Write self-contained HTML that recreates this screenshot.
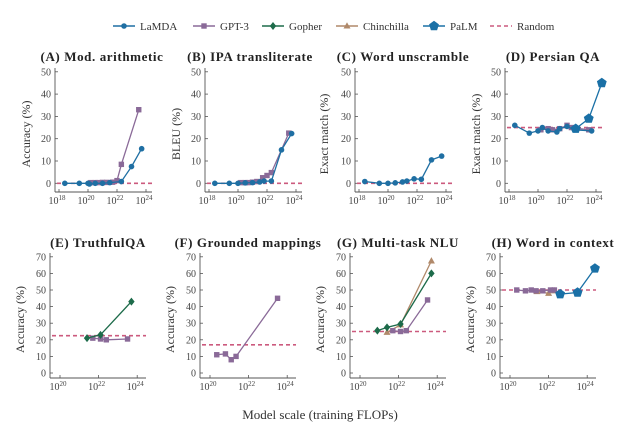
<!DOCTYPE html>
<html><head><meta charset="utf-8"><style>
body{margin:0;background:#fff;width:640px;height:430px;overflow:hidden}
svg{display:block;font-family:"Liberation Serif",serif}
</style></head><body>
<svg id="s" width="640" height="430" viewBox="0 0 640 430" xmlns="http://www.w3.org/2000/svg"></svg>
<script>
const C={L:'#1f6fa3',G:'#8a6a98',Go:'#1d6b4a',Ch:'#b0896a',P:'#1a70a6',R:'#cc5a7e'};
let h='';
function mk(t,x,y){
 if(t=='L')return `<circle cx="${x}" cy="${y}" r="2.8" fill="${C.L}"/>`;
 if(t=='G')return `<rect x="${x-2.7}" y="${y-2.7}" width="5.4" height="5.4" fill="${C.G}"/>`;
 if(t=='Go')return `<polygon points="${x},${y-4} ${x+3.2},${y} ${x},${y+4} ${x-3.2},${y}" fill="${C.Go}"/>`;
 if(t=='Ch')return `<polygon points="${x},${y-3.8} ${x+3.5},${y+2.5} ${x-3.5},${y+2.5}" fill="${C.Ch}"/>`;
 if(t=='P'){let p=[];for(let i=0;i<5;i++){let a=-Math.PI/2+i*2*Math.PI/5;p.push((x+5.2*Math.cos(a)).toFixed(1)+','+(y+5.2*Math.sin(a)).toFixed(1));}return `<polygon points="${p.join(' ')}" fill="${C.P}"/>`;}
}
function leg(){
 const items=[['L','LaMDA',113],['G','GPT-3',193],['Go','Gopher',262],['Ch','Chinchilla',336],['P','PaLM',423],['R','Random',490]];
 for(const [t,n,x] of items){
  if(t=='R')h+=`<line x1="${x}" y1="26" x2="${x+22}" y2="26" stroke="${C.R}" stroke-width="1.6" stroke-dasharray="4,3"/>`;
  else h+=`<line x1="${x}" y1="26" x2="${x+22}" y2="26" stroke="${C[t]}" stroke-width="1.4"/>`+mk(t,x+11,26);
  h+=`<text x="${x+27}" y="30" font-size="11" fill="#333">${n}</text>`;
 }
}
function panel(o){
 const top=o.row==0;
 const ax=o.ax;
 const y0=top?183.3:373, sc=top?2.23:1.66, ymax=top?50:70, ybot=top?192:378, ytop=top?68:253;
 const xs=top?(l=>ax+4+(l-18)*14.5):(l=>ax+10+(l-20)*19.3);
 const xr=top?ax+97:ax+96;
 const Y=v=>y0-v*sc;
 h+=`<text x="${o.tx}" y="${top?61:247}" font-size="13" letter-spacing="0.6" font-weight="bold" text-anchor="middle" fill="#222">${o.title}</text>`;
 h+=`<line x1="${ax}" y1="${ytop}" x2="${ax}" y2="${ybot}" stroke="#555" stroke-width="0.9"/><line x1="${ax}" y1="${ybot}" x2="${xr}" y2="${ybot}" stroke="#555" stroke-width="0.9"/>`;
 for(let v=0;v<=ymax;v+=10){h+=`<line x1="${ax}" y1="${Y(v)}" x2="${ax+3}" y2="${Y(v)}" stroke="#555" stroke-width="0.8"/><text x="${ax-4}" y="${Y(v)+3.5}" font-size="10" text-anchor="end" fill="#444">${v}</text>`;}
 const dec=top?[18,20,22,24]:[20,22,24];
 for(const d of dec){const x=xs(d);h+=`<line x1="${x}" y1="${ybot}" x2="${x}" y2="${ybot-3}" stroke="#555" stroke-width="0.8"/><text x="${x-2}" y="${ybot+12}" font-size="10" text-anchor="middle" fill="#444">10<tspan dy="-4" font-size="7">${d}</tspan></text>`;}
 h+=`<text transform="translate(${o.lx},${(ytop+ybot)/2+4}) rotate(-90)" font-size="12" text-anchor="middle" fill="#333">${o.yl}</text>`;
 h+=`<line x1="${ax+2}" y1="${Y(o.r)}" x2="${xr}" y2="${Y(o.r)}" stroke="${C.R}" stroke-width="1.6" stroke-dasharray="4,3"/>`;
 for(const [t,pts] of o.s){
  const P=pts.map(([l,v])=>[xs(l),Y(v)]);
  h+=`<polyline points="${P.map(p=>p[0].toFixed(1)+','+p[1].toFixed(1)).join(' ')}" fill="none" stroke="${C[t]}" stroke-width="1.3"/>`;
  for(const p of P)h+=mk(t,p[0],p[1]);
 }
}
leg();
panel({row:0,ax:55,tx:102,lx:30,title:'(A) Mod. arithmetic',yl:'Accuracy (%)',r:0,s:[
 ['G',[[20.2,0.3],[20.5,0.3],[20.7,0.3],[21,0.4],[21.3,0.4],[21.7,0.5],[22,1.2],[22.3,8.5],[23.5,33]]],
 ['L',[[18.4,0],[19.4,0],[20,0],[20.1,-0.3],[20.5,0],[21,0],[21.5,0.3],[22.3,0.8],[23,7.5],[23.7,15.5]]]]});
panel({row:0,ax:205,tx:250,lx:180,title:'(B) IPA transliterate',yl:'BLEU (%)',r:0,s:[
 ['G',[[20.2,0.3],[20.5,0.3],[20.7,0.3],[21,0.5],[21.3,0.8],[21.7,2.5],[22,3.5],[22.3,4.8],[23.5,22.5]]],
 ['L',[[18.4,0],[19.4,0],[20,0],[20.5,0.2],[21,0.3],[21.5,0.6],[21.8,1],[22.3,1],[23,15],[23.7,22.3]]]]});
panel({row:0,ax:355,tx:403,lx:328,title:'(C) Word unscramble',yl:'Exact match (%)',r:0,s:[
 ['L',[[18.4,0.8],[19.4,0],[20,0],[20.5,0.2],[21,0.6],[21.3,1],[21.8,2],[22.3,1.8],[23,10.5],[23.7,12.2]]]]});
panel({row:0,ax:505,tx:553,lx:480,title:'(D) Persian QA',yl:'Exact match (%)',r:25,s:[
 ['G',[[20.2,24],[20.7,24.5],[21,24],[21.5,24.5],[22,26],[22.3,25],[23.5,24]]],
 ['L',[[18.4,26],[19.4,22.5],[20,23.5],[20.3,25],[20.7,23.5],[21.3,23],[21.5,24.5],[22,25.5],[22.5,24],[23.7,23.5]]],
 ['P',[[22.6,24.5],[23.5,29],[24.4,45]]]]});
panel({row:1,ax:50,tx:98,lx:24,title:'(E) TruthfulQA',yl:'Accuracy (%)',r:22.5,s:[
 ['G',[[21.7,21],[22.1,20.5],[22.4,20],[23.5,20.5]]],
 ['Go',[[21.4,21],[22.1,23],[23.7,43]]]]});
panel({row:1,ax:200,tx:248,lx:174,title:'(F) Grounded mappings',yl:'Accuracy (%)',r:17,s:[
 ['G',[[20.35,11],[20.8,11.5],[21.1,8],[21.35,10],[23.5,45]]]]});
panel({row:1,ax:350,tx:398,lx:324,title:'(G) Multi-task NLU',yl:'Accuracy (%)',r:25,s:[
 ['Ch',[[21.4,24.5],[22.1,29],[23.7,67.5]]],
 ['G',[[21.7,25.5],[22.1,25],[22.4,25.5],[23.5,44]]],
 ['Go',[[20.9,25.5],[21.4,27.5],[22.1,29.5],[23.7,60]]]]});
panel({row:1,ax:500,tx:553,lx:474,title:'(H) Word in context',yl:'Accuracy (%)',r:50,s:[
 ['Ch',[[21.4,49],[22,48],[22.3,49.5]]],
 ['G',[[20.35,50],[20.8,49.5],[21.1,50],[21.35,49.5],[21.7,49.5],[22.1,50],[22.3,50]]],
 ['P',[[22.6,47.5],[23.5,48.5],[24.4,63]]]]});
h+=`<text x="320" y="419" font-size="13" text-anchor="middle" fill="#333">Model scale (training FLOPs)</text>`;
document.getElementById('s').innerHTML=h;
</script>
</body></html>
